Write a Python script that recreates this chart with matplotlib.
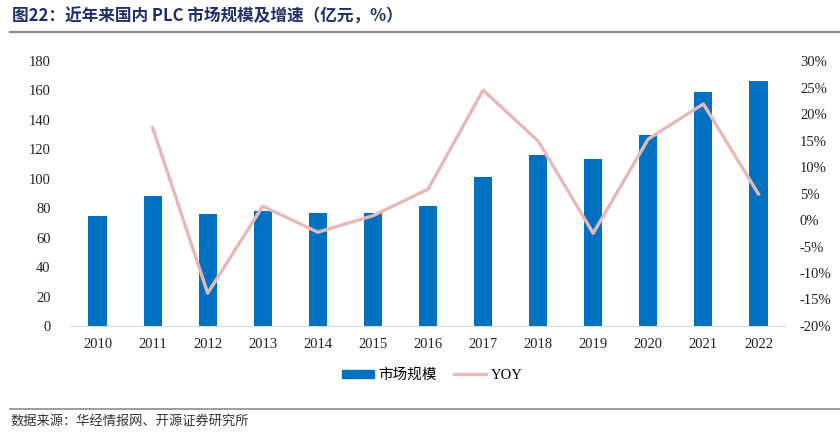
import matplotlib.pyplot as plt
from matplotlib.lines import Line2D
from matplotlib.patches import Patch
import numpy as np

# 数据
years = ['2010', '2011', '2012', '2013', '2014', '2015', '2016',
         '2017', '2018', '2019', '2020', '2021', '2022']
market_size = [75, 88, 76, 78, 77, 77, 81.5, 101, 116, 113.5, 130, 159, 166.5]
yoy = [None, 17.4, -13.8, 2.6, -2.3, 0.8, 5.8, 24.5, 14.9, -2.5, 15.3, 21.9, 4.9]

bar_color = '#0070C0'
line_color = '#E6B9B8'
serif = ['Liberation Serif', 'Noto Sans CJK SC']
cjk = ['Noto Sans CJK SC', 'DejaVu Sans']

fig = plt.figure(figsize=(8.4, 4.36), dpi=100)
ax = fig.add_axes([70 / 840, 1 - 326 / 436, 716 / 840, 265 / 436])
ax2 = ax.twinx()

x = np.arange(len(years))
ax.bar(x, market_size, width=0.33, color=bar_color, zorder=2)

yx = [i for i, v in enumerate(yoy) if v is not None]
yv = [v for v in yoy if v is not None]
ax2.plot(yx, yv, color=line_color, linewidth=2.4, zorder=3)

ax.set_xlim(-0.5, len(years) - 0.5)
ax.set_ylim(0, 180)
ax.set_yticks(range(0, 181, 20))
ax2.set_ylim(-20, 30)
ax2.set_yticks(range(-20, 31, 5))
ax2.set_yticklabels([f'{v}%' for v in range(-20, 31, 5)])

ax.set_xticks(x)
ax.set_xticklabels(years)

for a in (ax, ax2):
    for s in a.spines.values():
        s.set_visible(False)
    a.tick_params(length=0, labelsize=10.5, colors='#222222')
    for lab in a.get_xticklabels() + a.get_yticklabels():
        lab.set_family(serif)
ax.spines['bottom'].set_visible(True)
ax.spines['bottom'].set_color('#D9D9D9')
ax.tick_params(axis='x', pad=9)
ax.tick_params(axis='y', pad=14)
ax2.tick_params(axis='y', pad=10)
ax2.set_zorder(ax.get_zorder() + 1)
ax2.patch.set_visible(False)

# 图例
handles = [Patch(color=bar_color), Line2D([0], [0], color=line_color, linewidth=2.4)]
leg = fig.legend(handles, ['市场规模', 'YOY'], loc='center', bbox_to_anchor=(432 / 840, 1 - 375 / 436),
                 ncol=2, frameon=False, fontsize=10.5, handlelength=2.2, handleheight=0.5,
                 columnspacing=1.2, handletextpad=0.3)
for t in leg.get_texts():
    t.set_family(serif if t.get_text() == 'YOY' else cjk)

# 标题和来源
fig.text(12 / 840, 1 - 17 / 436, '图22：近年来国内 PLC 市场规模及增速（亿元，%）', fontsize=12,
         fontweight='bold', color='#1F2F6B', family=cjk, va='center', ha='left')
fig.add_artist(Line2D([10 / 840, 1], [1 - 32 / 436] * 2, color='#8C8C8C', linewidth=1.6))
fig.add_artist(Line2D([10 / 840, 1], [1 - 409 / 436] * 2, color='#8C8C8C', linewidth=1.2))
fig.text(10 / 840, 1 - 422 / 436, '数据来源：华经情报网、开源证券研究所', fontsize=9.5,
         color='#333333', family=cjk, va='center', ha='left')

fig.savefig('out.png', dpi=100)
